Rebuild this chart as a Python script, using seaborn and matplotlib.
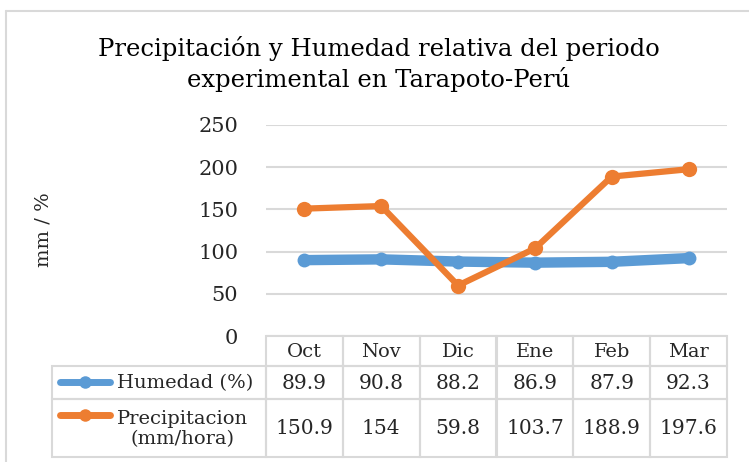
import pandas as pd
import seaborn as sns
import matplotlib.pyplot as plt
from matplotlib.patches import Rectangle
from matplotlib.lines import Line2D

# data
meses = ["Oct", "Nov", "Dic", "Ene", "Feb", "Mar"]
humedad = [89.9, 90.8, 88.2, 86.9, 87.9, 92.3]
precipitacion = [150.9, 154, 59.8, 103.7, 188.9, 197.6]
series_labels = ["Humedad (%)", "Precipitacion\n(mm/hora)"]
titulo = "Precipitación y Humedad relativa del periodo\nexperimental en Tarapoto-Perú"

AZUL = "#5B9BD5"
NARANJA = "#ED7D31"
GRIS = "#D9D9D9"

df = pd.DataFrame({"mes": meses, "hum": humedad, "prec": precipitacion})

sns.set_theme(style="white")
plt.rcParams["font.family"] = ["DejaVu Serif"]

W, H = 749, 462
fig = plt.figure(figsize=(W / 100, H / 100), dpi=100)

# background axes in pixel coords for border, title and data table
bg = fig.add_axes([0, 0, 1, 1])
bg.set_xlim(0, W)
bg.set_ylim(H, 0)
bg.axis("off")

bg.plot([6, 6], [11, H], color=GRIS, lw=1.5)
bg.plot([6, W], [11, 11], color=GRIS, lw=1.5)

bg.text(379, 64, titulo, ha="center", va="center", fontsize=17.5,
        linespacing=1.3, color="black")
bg.text(43, 230, "mm / %", rotation=90, ha="center", va="center", fontsize=14)

# plot area
x0, x1, ytop, ybot = 266, 727, 125, 336
ax = fig.add_axes([x0 / W, (H - ybot) / H, (x1 - x0) / W, (ybot - ytop) / H])
ax.set_facecolor("none")

sns.lineplot(data=df, x="mes", y="hum", ax=ax, color=AZUL, lw=7.5,
             marker="o", markersize=10, markeredgewidth=0, sort=False)
sns.lineplot(data=df, x="mes", y="prec", ax=ax, color=NARANJA, lw=4.5,
             marker="o", markersize=11, markeredgewidth=0, sort=False)

ax.set_xlim(-0.5, len(meses) - 0.5)
ax.set_ylim(0, 250)
ax.set_yticks(range(0, 251, 50))
ax.yaxis.grid(True, color=GRIS, lw=1.5)
ax.set_axisbelow(True)
ax.set_xticks([])
ax.set_xlabel("")
ax.set_ylabel("")
ax.tick_params(axis="y", length=0, pad=20, labelsize=15)
for s in ax.spines.values():
    s.set_visible(False)

# data table under the plot
col_w = (x1 - x0) / len(meses)
rows_y = [336, 366, 399, 457]
lab_x = 52


def cell(x, y, w, h):
    bg.add_patch(Rectangle((x, y), w, h, fill=False, edgecolor=GRIS, lw=1.5))


for i, m in enumerate(meses):
    cx = x0 + i * col_w
    cell(cx, rows_y[0], col_w, rows_y[1] - rows_y[0])
    bg.text(cx + col_w / 2, (rows_y[0] + rows_y[1]) / 2 + 1, m,
            ha="center", va="center", fontsize=14)

for r, (vals, lab, col, lw) in enumerate([(humedad, series_labels[0], AZUL, 7.5),
                                         (precipitacion, series_labels[1], NARANJA, 4.5)]):
    ya, yb = rows_y[r + 1], rows_y[r + 2]
    ym = (ya + yb) / 2
    cell(lab_x, ya, x0 - lab_x, yb - ya)
    ly = ya + 16
    bg.add_line(Line2D([60, 110], [ly, ly], color=col, lw=5))
    bg.plot([85], [ly], marker="o", markersize=9, color=col, markeredgewidth=0)
    bg.text(117, ym + 1, lab, ha="left", va="center", fontsize=14,
            multialignment="center", linespacing=1.2)
    for i, v in enumerate(vals):
        cx = x0 + i * col_w
        cell(cx, ya, col_w, yb - ya)
        bg.text(cx + col_w / 2, ym + 1, f"{v:g}", ha="center", va="center", fontsize=14.5)

fig.savefig("out.png", dpi=100)
